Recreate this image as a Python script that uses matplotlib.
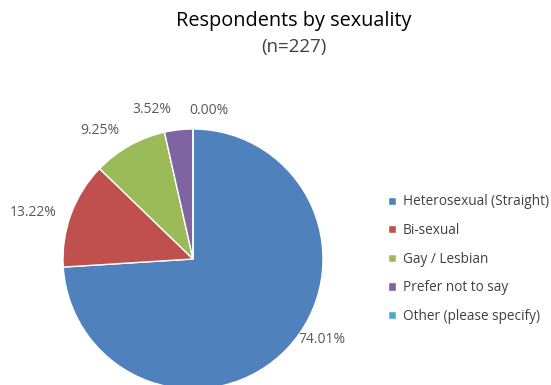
import numpy as np
import matplotlib
matplotlib.use('Agg')
import matplotlib.pyplot as plt

plt.rcParams['font.family'] = ['Open Sans', 'DejaVu Sans']

categories = ['Heterosexual (Straight)', 'Bi-sexual', 'Gay / Lesbian',
              'Prefer not to say', 'Other (please specify)']
shares = [74.01, 13.22, 9.25, 3.52, 0.00]
colors = ['#4F81BD', '#C0504D', '#9BBB59', '#8064A2', '#4BACC6']

# label placement: (angle in degrees, distance in radii) per slice
label_pos = [(-32, 1.17), (163.6, 1.28), (125.8, 1.22), (105.4, 1.19), (84, 1.15)]

W, H = 551, 385
fig = plt.figure(figsize=(W / 100, H / 100), dpi=100)
ax = fig.add_axes([0, 0, 1, 1])

cx, cy, r = 193, H - 259, 130
wedges, _ = ax.pie(shares, colors=colors, startangle=90, counterclock=False,
                   center=(cx, cy), radius=r, frame=True,
                   wedgeprops=dict(edgecolor='white', linewidth=1))
ax.set_xlim(0, W)
ax.set_ylim(0, H)
ax.set_aspect('equal')
ax.axis('off')

for v, (ang, d) in zip(shares, label_pos):
    a = np.deg2rad(ang)
    ax.text(cx + d * r * np.cos(a), cy + d * r * np.sin(a), f'{v:.2f}%',
            ha='center', va='center', fontsize=10, color='#595959')

fig.text(294 / W, 1 - 21 / H, 'Respondents by sexuality', ha='center', va='center',
         fontsize=14.3, color='black')
fig.text(294 / W, 1 - 47 / H, '(n=227)', ha='center', va='center',
         fontsize=13.5, color='#404040')

fig.legend(wedges, categories, loc='upper left', bbox_to_anchor=(383 / W, 1 - 189 / H),
           frameon=False, fontsize=9.8, handlelength=0.55, handleheight=0.55,
           handletextpad=0.5, labelspacing=1.0, labelcolor='#404040',
           borderaxespad=0)

fig.savefig('out.png', dpi=100)
